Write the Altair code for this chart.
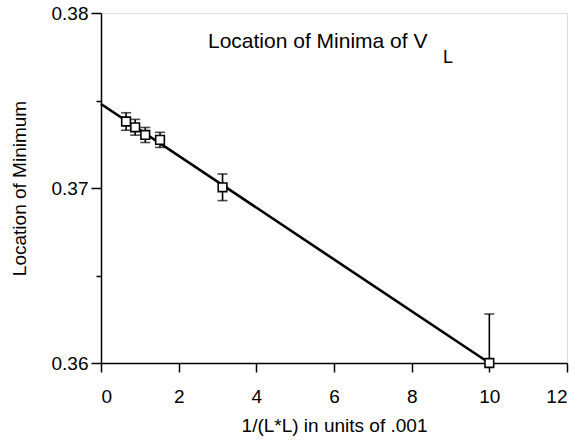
import altair as alt
import pandas as pd

# Measured minimum locations versus 1/(L*L) (units of .001), with error estimates
inv_l2 = [0.645, 0.88, 1.14, 1.52, 3.13, 10.0]
min_loc = [0.3738, 0.37347, 0.37303, 0.37275, 0.37004, 0.3600]
err = [0.0005, 0.00045, 0.00043, 0.00043, 0.00076, 0.0028]

# Straight-line fit extrapolated to 1/(L*L) = 0
fit_x = [0.0, 10.0]
fit_y = [0.3748, 0.3600]

x_ticks = list(range(0, 13))
y_ticks = [0.36, 0.365, 0.37, 0.375, 0.38]

FONT = "Liberation Sans"

pts = pd.DataFrame({
    "x": inv_l2,
    "y": min_loc,
    "lo": [v - e for v, e in zip(min_loc, err)],
    "hi": [v + e for v, e in zip(min_loc, err)],
})
fit = pd.DataFrame({"x": fit_x, "y": fit_y})
one_row = pd.DataFrame({"k": [0]})

x_scale = alt.Scale(domain=[0, 12], nice=False, zero=False)
y_scale = alt.Scale(domain=[0.36, 0.38], nice=False, zero=False)

x_axis = alt.Axis(
    values=x_ticks,
    labelExpr="datum.value % 2 === 0 ? datum.label : ''",
    tickSize={"condition": {"test": "datum.value % 2 === 0", "value": 9}, "value": 5},
    grid=False,
    domainColor="black",
    tickColor="black",
    domainWidth=1.5,
    tickWidth=1.5,
    labelFont=FONT,
    labelFontSize=19,
    labelColor="black",
    labelPadding=15,
    title="1/(L*L) in units of .001",
    titleFont=FONT,
    titleFontSize=19,
    titleFontWeight="normal",
    titleColor="black",
    titlePadding=10,
)

y_axis = alt.Axis(
    values=y_ticks,
    format=".2f",
    labelExpr="round(datum.value * 1000) % 10 === 0 ? datum.label : ''",
    tickSize={"condition": {"test": "round(datum.value * 1000) % 10 === 0", "value": 10}, "value": 5},
    grid=False,
    domainColor="black",
    tickColor="black",
    domainWidth=1.5,
    tickWidth=1.5,
    labelFont=FONT,
    labelFontSize=19,
    labelColor="black",
    labelPadding=3,
    title="Location of Minimum",
    titleFont=FONT,
    titleFontSize=19,
    titleFontWeight="normal",
    titleColor="black",
    titlePadding=22,
)

base = alt.Chart(pts)

line = alt.Chart(fit).mark_line(color="black", strokeWidth=2.6).encode(
    x=alt.X("x:Q", scale=x_scale, axis=x_axis),
    y=alt.Y("y:Q", scale=y_scale, axis=y_axis),
)

bars = base.mark_rule(color="black", strokeWidth=1.6, clip=True).encode(
    x="x:Q", y="lo:Q", y2="hi:Q"
)
cap_hi = base.mark_tick(color="black", orient="horizontal", size=10, thickness=1.6, clip=True).encode(
    x="x:Q", y="hi:Q"
)
cap_lo = base.mark_tick(color="black", orient="horizontal", size=10, thickness=1.6, clip=True).encode(
    x="x:Q", y="lo:Q"
)
squares = base.mark_point(
    shape="square", size=75, filled=False, fill="white", fillOpacity=1,
    stroke="black", strokeWidth=1.6, opacity=1
).encode(x="x:Q", y="y:Q")

title_main = alt.Chart(one_row).mark_text(
    text="Location of Minima of V", font=FONT, fontSize=21, align="left",
    baseline="alphabetic", color="black"
).encode(x=alt.value(107), y=alt.value(35))
title_sub = alt.Chart(one_row).mark_text(
    text="L", font=FONT, fontSize=18, align="left", baseline="alphabetic", color="black"
).encode(x=alt.value(342), y=alt.value(50))

chart = alt.layer(line, bars, cap_hi, cap_lo, squares, title_main, title_sub).properties(
    width=466,
    height=350,
    autosize="none",
    padding={"left": 101, "top": 13, "right": 12, "bottom": 77},
).configure_view(stroke=None).configure(background="white")

chart.save("out.html", embed_options={"renderer": "svg", "actions": False})
